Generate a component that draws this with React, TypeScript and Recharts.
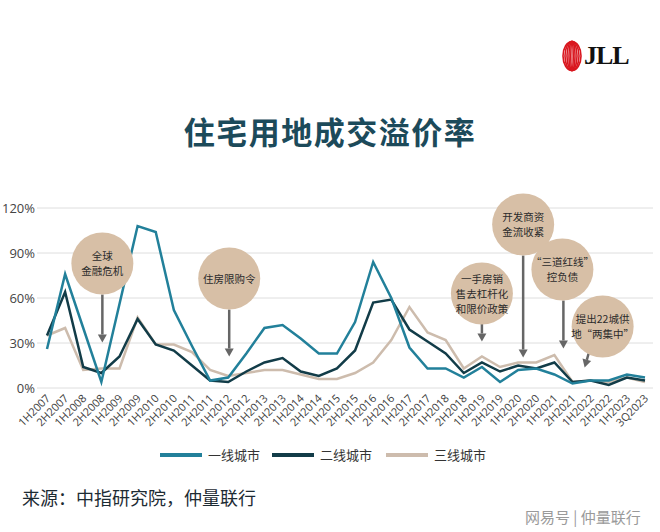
import React from 'react';
import { LineChart, Line, XAxis, YAxis, CartesianGrid, ReferenceDot } from 'recharts';

const periods = [
  '1H2007', '2H2007', '1H2008', '2H2008', '1H2009', '2H2009', '1H2010', '2H2010',
  '1H2011', '2H2011', '1H2012', '2H2012', '1H2013', '2H2013', '1H2014', '2H2014',
  '1H2015', '2H2015', '1H2016', '2H2016', '1H2017', '2H2017', '1H2018', '2H2018',
  '1H2019', '2H2019', '1H2020', '2H2020', '1H2021', '2H2021', '1H2022', '2H2022',
  '1H2023', '3Q2023',
];

// 一线城市
const tier1 = [26, 76, 40, 4, 56, 108, 104, 52, 28, 5, 7, 23, 40, 42, 33, 23, 23, 44, 84, 60, 27, 13, 13, 7, 14, 4, 12, 13, 9, 3, 5, 5, 9, 7];
// 二线城市
const tier2 = [35, 64, 14, 10, 21, 46, 29, 25, 15, 5, 4, 11, 17, 20, 11, 8, 13, 25, 57, 59, 39, 31, 23, 10, 17, 11, 15, 13, 17, 4, 5, 2, 7, 5];
// 三线城市
const tier3 = [35, 40, 12, 13, 13, 47, 29, 29, 24, 12, 8, 10, 12, 12, 9, 6, 6, 10, 17, 32, 54, 37, 32, 13, 21, 14, 17, 17, 22, 4, 5, 4, 7, 4];

const yTicks = [0, 30, 60, 90, 120];

const seriesNames = ['一线城市', '二线城市', '三线城市'];
const seriesColors = ['#22809a', '#123c48', '#cdbcad'];

// annotation bubbles: anchor period, level, text lines
const notes = [
  { x: '2H2008', y: 83, lines: ['全球', '金融危机'] },
  { x: '1H2012', y: 73, lines: ['住房限购令'] },
  { x: '1H2019', y: 63, lines: ['一手房销', '售去杠杆化', '和限价政策'] },
  { x: '1H2020', y: 109, lines: ['开发商资', '金流收紧'] },
  { x: '1H2021', y: 79, lines: ['“三道红线”', '控负债'] },
  { x: '1H2022', y: 41, lines: ['提出22城供', '地“两集中”'] },
];
// offsets / arrow geometry for each bubble (px, relative to bubble)
const noteLayout = [
  { dx: 1, arrow: [0, 31, 0, 79] },
  { dx: 1, arrow: [0, 31, 0, 78] },
  { dx: 0, arrow: [0, 30, 0, 48] },
  { dx: 5, arrow: [0, 31, 0, 133] },
  { dx: 8, arrow: [1, 31, 1, 79] },
  { dx: 12, arrow: [-14, 27, -18, 41] },
];

const chartData = periods.map((p, i) => ({
  period: p,
  t1: tier1[i],
  t2: tier2[i],
  t3: tier3[i],
}));

const cjk = '"Noto Sans CJK SC", "Noto Sans", sans-serif';

function Bubble(props: any) {
  const { cx, cy, idx } = props;
  const note = notes[idx];
  const lay = noteLayout[idx];
  const x = cx + lay.dx;
  const [ax1, ay1, ax2, ay2] = lay.arrow;
  const x1 = x + ax1, y1 = cy + ay1, x2 = x + ax2, y2 = cy + ay2;
  const ang = Math.atan2(y2 - y1, x2 - x1);
  const hl = 8, hw = 4.5;
  const bx = x2 - hl * Math.cos(ang), by = y2 - hl * Math.sin(ang);
  const px = -Math.sin(ang) * hw, py = Math.cos(ang) * hw;
  const lh = 15;
  const top = cy - ((note.lines.length - 1) * lh) / 2;
  return (
    <g>
      <line x1={x1} y1={y1} x2={bx} y2={by} stroke="#666" strokeWidth={2.5} />
      <polygon points={`${x2},${y2} ${bx + px},${by + py} ${bx - px},${by - py}`} fill="#666" />
      <circle cx={x} cy={cy} r={31} fill="#d7bfa6" />
      {note.lines.map((t, k) => (
        <text
          key={k}
          x={x}
          y={top + k * lh}
          dy={4}
          textAnchor="middle"
          fontSize={10.5}
          fontFamily={cjk}
          fill="#2b2b2b"
        >
          {t}
        </text>
      ))}
    </g>
  );
}

function XTick(props: any) {
  const { x, y, payload } = props;
  return (
    <g transform={`translate(${x + 4},${y + 9})`}>
      <text
        x={0}
        y={0}
        textAnchor="end"
        transform="rotate(-45)"
        fontSize={11}
        fontFamily='"Open Sans", sans-serif'
        fill="#3d3d3d"
      >
        {payload.value}
      </text>
    </g>
  );
}

function Logo() {
  return (
    <div style={{ position: 'absolute', left: 562, top: 40, display: 'flex', alignItems: 'center' }}>
      <svg width={20} height={32}>
        {[9, 7, 5, 3, 1.2].map((rx, i) => (
          <ellipse key={i} cx={10} cy={16} rx={rx} ry={14.5} fill="none" stroke="#d9171f" strokeWidth={1.6} />
        ))}
      </svg>
      <span
        style={{
          fontFamily: '"Liberation Serif", serif',
          fontWeight: 700,
          fontSize: 26,
          color: '#111',
          marginLeft: 2,
          letterSpacing: -1,
        }}
      >
        JLL
      </span>
    </div>
  );
}

export default function App() {
  return (
    <div
      style={{
        position: 'absolute',
        left: 0,
        top: 0,
        width: 660,
        height: 532,
        background: '#fff',
        overflow: 'hidden',
        fontFamily: cjk,
      }}
    >
      <Logo />
      <div
        style={{
          position: 'absolute',
          left: 0,
          width: 660,
          top: 108,
          textAlign: 'center',
          fontSize: 31,
          fontWeight: 700,
          color: '#1c4a5a',
          letterSpacing: 1.5,
        }}
      >
        住宅用地成交溢价率
      </div>

      <div style={{ position: 'absolute', left: 0, top: 190 }}>
        <LineChart
          width={660}
          height={270}
          data={chartData}
          margin={{ top: 18, right: 7, left: 0, bottom: 12 }}
        >
          <CartesianGrid vertical={false} stroke="#dedede" strokeWidth={1} />
          <XAxis
            dataKey="period"
            interval={0}
            tick={<XTick />}
            tickLine={false}
            axisLine={false}
            tickSize={0}
            height={60}
            padding={{ left: 10, right: 8 }}
          />
          <YAxis
            domain={[0, 120]}
            ticks={yTicks}
            tickFormatter={(v: number) => `${v}%`}
            width={37}
            tickLine={false}
            axisLine={false}
            tickSize={0}
            tickMargin={2}
            tick={{ fontSize: 13, fill: '#444', fontFamily: '"Open Sans", sans-serif' }}
          />
          <Line dataKey="t3" stroke={seriesColors[2]} strokeWidth={2.5} dot={false} isAnimationActive={false} />
          <Line dataKey="t2" stroke={seriesColors[1]} strokeWidth={2.5} dot={false} isAnimationActive={false} />
          <Line dataKey="t1" stroke={seriesColors[0]} strokeWidth={2.5} dot={false} isAnimationActive={false} />
          {notes.map((n, i) => (
            <ReferenceDot
              key={i}
              x={n.x}
              y={n.y}
              ifOverflow="visible"
              shape={(p: any) => <Bubble {...p} idx={i} />}
            />
          ))}
        </LineChart>
      </div>

      {/* legend */}
      <div style={{ position: 'absolute', top: 445, left: 160, display: 'flex', alignItems: 'center' }}>
        {seriesNames.map((name, i) => (
          <div key={name} style={{ display: 'flex', alignItems: 'center', marginRight: i === 0 ? 12 : 14 }}>
            <div style={{ width: 42, height: 4, background: seriesColors[i], marginRight: 6 }} />
            <span style={{ fontSize: 13, color: '#333' }}>{name}</span>
          </div>
        ))}
      </div>

      <div style={{ position: 'absolute', left: 22, top: 484, fontSize: 18, color: '#1d2b33' }}>
        来源：中指研究院，仲量联行
      </div>
      <div style={{ position: 'absolute', left: 525, top: 506, fontSize: 15, color: '#9a9a9a' }}>
        网易号 | 仲量联行
      </div>
    </div>
  );
}
